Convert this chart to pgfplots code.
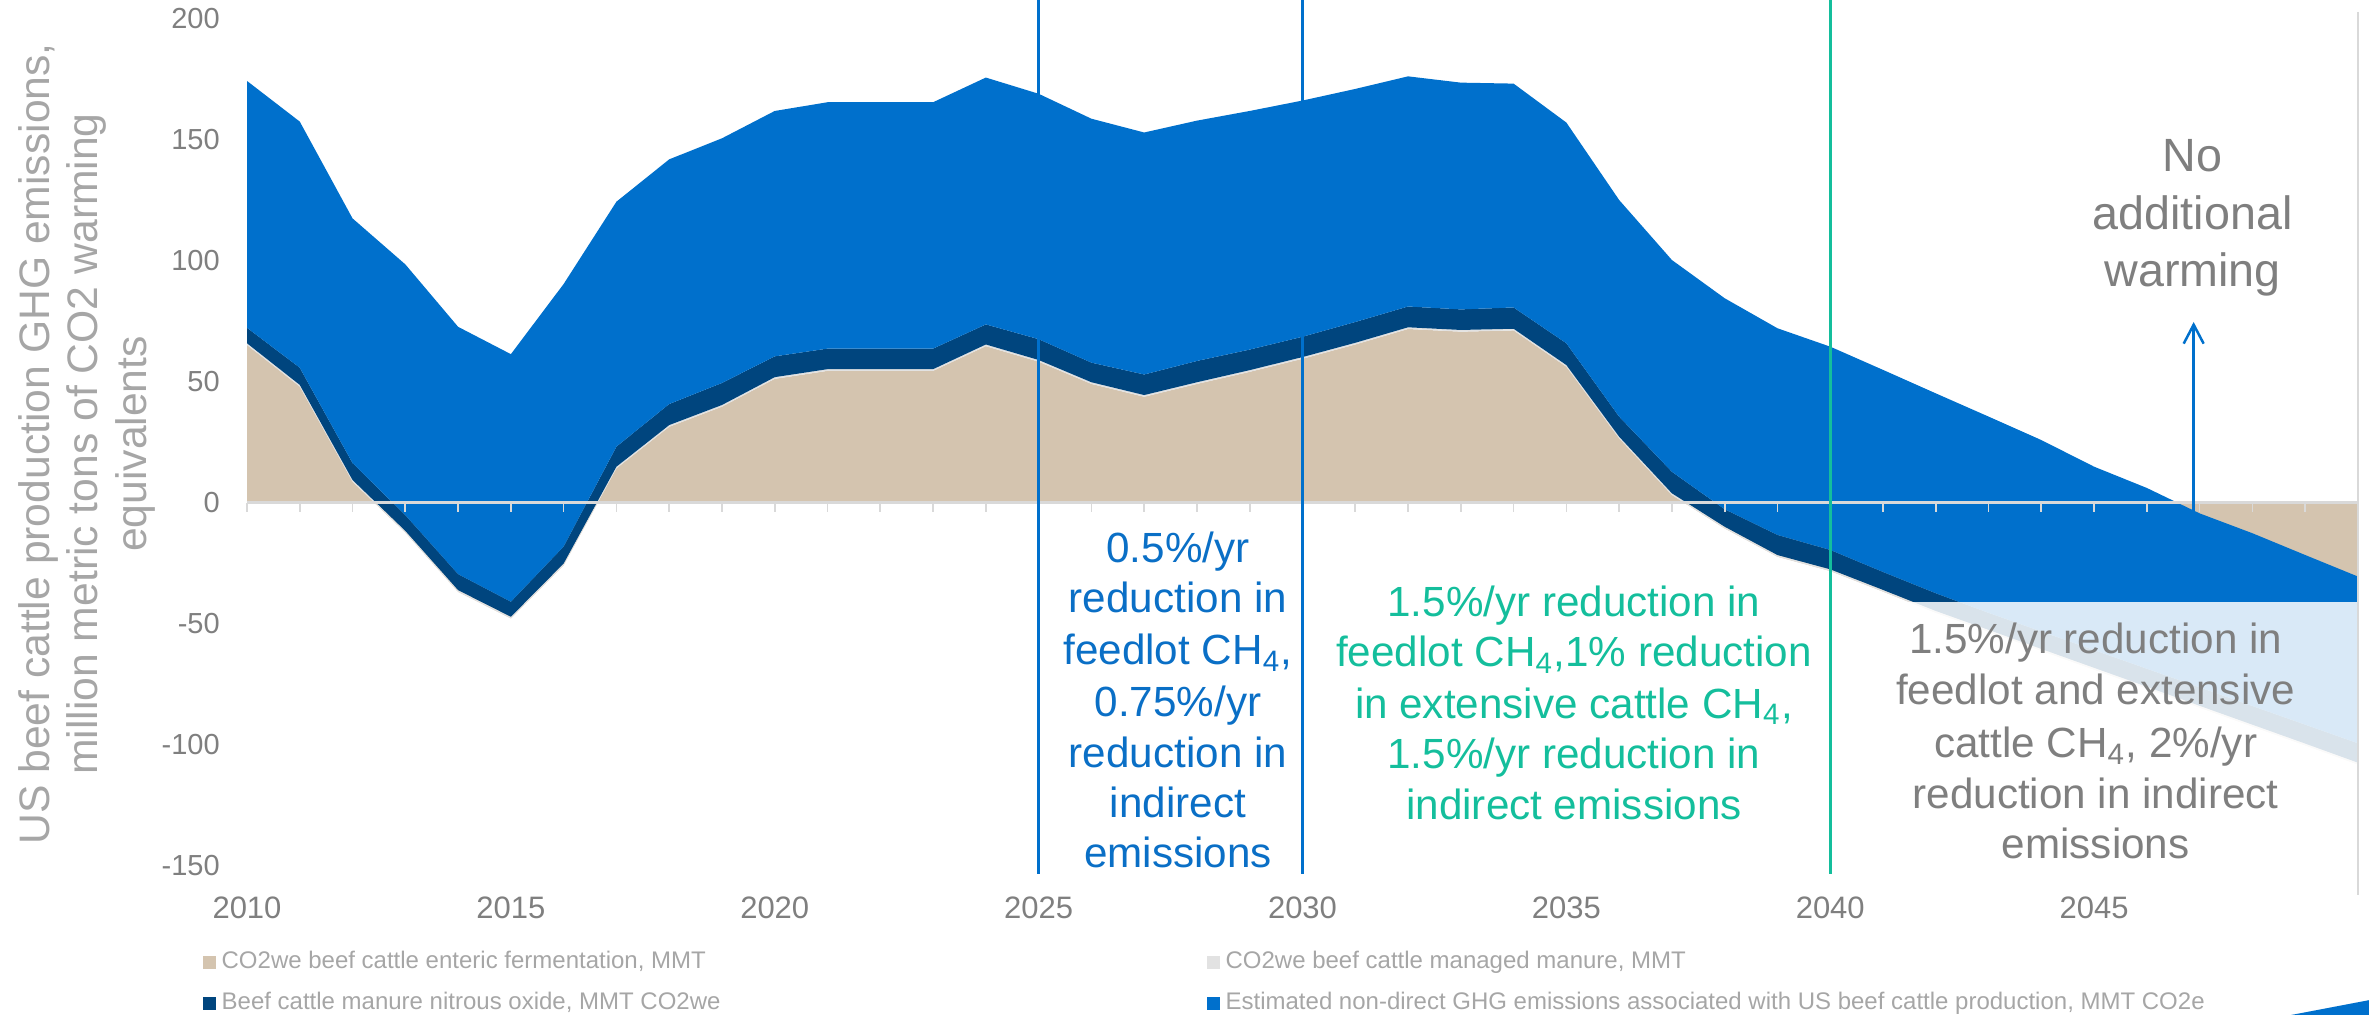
\documentclass[border=0pt]{standalone}
\usepackage{fontspec}
\setmainfont{Liberation Sans}
\usepackage{pgfplots}
\pgfplotsset{compat=1.18}
\usepackage{pgfplotstable}
\usetikzlibrary{arrows.meta}

\definecolor{cTan}{HTML}{D4C4AF}
\definecolor{cManure}{HTML}{E2E2E2}
\definecolor{cNavy}{HTML}{00457E}
\definecolor{cBlue}{HTML}{0070CC}
\definecolor{cBlueText}{HTML}{0A6FC6}
\definecolor{cGreen}{HTML}{14BE9C}
\definecolor{cText}{HTML}{7F7F7F}
\definecolor{cLight}{HTML}{A6A6A6}
\definecolor{cAxis}{HTML}{D9D9D9}

\tikzset{
  ann/.style={anchor=base, inner sep=0pt, font=\fontsize{12.66bp}{15bp}\selectfont},
  big/.style={anchor=base, inner sep=0pt, font=\fontsize{14bp}{17bp}\selectfont, text=cText},
  ylab/.style={anchor=base, inner sep=0pt, rotate=90, font=\fontsize{12.8bp}{15bp}\selectfont, text=cLight},
  leg/.style={anchor=base west, inner sep=0pt, font=\fontsize{7.2bp}{8.5bp}\selectfont, text=cLight},
}

% US beef cattle GHG emissions, MMT CO2 warming equivalents (stacked)
\pgfplotstableread{
year enteric manure nitrous indirect
2010 65.3 0.7 6.4 102.0
2011 48.1 0.7 7.1 101.7
2012 8.8 0.7 7.0 101.1
2013 -12.2 0.7 6.5 103.6
2014 -36.7 0.7 6.6 102.2
2015 -47.7 0.7 6.2 102.3
2016 -25.7 0.7 7.0 108.5
2017 14.3 0.7 8.3 101.2
2018 31.5 0.7 8.7 101.1
2019 39.8 0.7 9.1 101.1
2020 51.3 0.7 8.6 101.4
2021 54.6 0.7 8.5 101.8
2022 54.6 0.7 8.5 101.8
2023 54.6 0.7 8.5 101.8
2024 64.8 0.7 8.3 102.0
2025 58.4 0.7 8.6 101.4
2026 49.2 0.7 8.1 100.8
2027 43.9 0.7 8.5 100.0
2028 49.2 0.7 8.8 99.3
2029 54.2 0.7 8.5 98.6
2030 59.6 0.7 8.4 97.6
2031 65.5 0.7 8.6 96.3
2032 71.9 0.7 8.6 95.1
2033 70.8 0.7 8.5 93.7
2034 71.3 0.7 8.8 92.5
2035 56.3 0.7 9.0 91.2
2036 26.7 0.7 8.3 89.5
2037 3.3 0.7 8.9 87.5
2038 -10.5 0.7 7.2 87.2
2039 -22.2 0.7 8.3 85.4
2040 -28.1 0.7 8.0 84.0
2041 -36.6 0.7 7.4 83.5
2042 -45.3 0.7 7.3 82.6
2043 -53.1 0.7 7.0 81.1
2044 -61.0 0.7 7.2 79.1
2045 -68.8 0.7 7.3 75.8
2046 -76.6 0.7 7.4 74.7
2047 -84.5 0.7 7.6 71.9
2048 -92.3 0.7 7.7 71.4
2049 -100.1 0.7 7.8 70.1
2050 -108.0 0.7 8.0 68.9
}\emissions

\begin{document}
\begin{tikzpicture}
\path[use as bounding box] (0,0) rectangle (710.7bp,304.5bp);
\begin{axis}[
  at={(74.1bp,44.7bp)}, anchor=south west,
  scale only axis, width=633.3bp, height=254.1bp,
  xmin=2010, xmax=2050, ymin=-150, ymax=200,
  clip=false,
  axis line style={draw=none},
  tick style={draw=none},
  xtick={2010,2015,2020,2025,2030,2035,2040,2045},
  xticklabels={2010,2015,2020,2025,2030,2035,2040,2045},
  ytick={-150,-100,-50,0,50,100,150,200},
  yticklabels={-150,-100,-50,0,50,100,150,200},
  xticklabel style={font=\fontsize{9.3bp}{11bp}\selectfont, text=cText,
    anchor=base, inner sep=0pt, yshift=-15.9bp},
  yticklabel style={font=\fontsize{8.7bp}{10bp}\selectfont, text=cText,
    anchor=east, inner sep=0pt, xshift=-8bp},
  stack plots=y,
  reverse stacked plots=false,
]
\addplot[fill=cTan, draw=none] table[x=year, y=enteric] {\emissions} \closedcycle;
\addplot[fill=cManure, draw=none] table[x=year, y=manure] {\emissions} \closedcycle;
\addplot[fill=cNavy, draw=none] table[x=year, y=nitrous] {\emissions} \closedcycle;
\addplot[fill=cBlue, draw=none] table[x=year, y=indirect] {\emissions} \closedcycle;
\end{axis}

% annotations, in pixel units of the 2369 x 1015 canvas (origin top left)
\begin{scope}[x=0.3bp, y=-0.3bp, shift={(0bp,304.5bp)}]
% translucent text box in the lower right
\fill[white, fill opacity=0.85] (1900,602) rectangle (2358,873);

% horizontal axis through zero with yearly ticks
\draw[cAxis, line width=0.9bp] (247,503) -- (2358,503);
\foreach \k in {0,...,40}{
  \draw[cAxis, line width=0.5bp] (247+\k*52.775,503) -- ++(0,9);
}
% right frame edge
\draw[cAxis, line width=0.6bp] (2358,12) -- (2358,895);

% policy period markers
\draw[cBlue, line width=0.9bp] (1038.6,0) -- (1038.6,874);
\draw[cBlue, line width=0.9bp] (1302.5,0) -- (1302.5,874);
\draw[cGreen, line width=0.9bp] (1830.25,0) -- (1830.25,874);

% no additional warming arrow
\draw[cBlue, line width=0.75bp, -{Straight Barb[length=5.7bp, width=6bp]}]
  (2193.7,511.5) -- (2193.7,322);

\node[big] at (2192.7,172) {No};
\node[big] at (2192.7,230) {additional};
\node[big] at (2192.7,287) {warming};

\node[ann, text=cBlueText] at (1178,563) {0.5\%/yr};
\node[ann, text=cBlueText] at (1178,613) {reduction in};
\node[ann, text=cBlueText] at (1178,665) {feedlot CH\textsubscript{4},};
\node[ann, text=cBlueText] at (1178,717) {0.75\%/yr};
\node[ann, text=cBlueText] at (1178,768) {reduction in};
\node[ann, text=cBlueText] at (1178,818) {indirect};
\node[ann, text=cBlueText] at (1178,868) {emissions};

\node[ann, text=cGreen] at (1574,616.7) {1.5\%/yr reduction in};
\node[ann, text=cGreen] at (1574,666.7) {feedlot CH\textsubscript{4},1\% reduction};
\node[ann, text=cGreen] at (1574,718.3) {in extensive cattle CH\textsubscript{4},};
\node[ann, text=cGreen] at (1574,768.3) {1.5\%/yr reduction in};
\node[ann, text=cGreen] at (1574,820) {indirect emissions};

\node[ann, text=cText] at (2095.7,654) {1.5\%/yr reduction in};
\node[ann, text=cText] at (2095.7,704.5) {feedlot and extensive};
\node[ann, text=cText] at (2095.7,757.5) {cattle CH\textsubscript{4}, 2\%/yr};
\node[ann, text=cText] at (2095.7,809) {reduction in indirect};
\node[ann, text=cText] at (2095.7,859) {emissions};

% vertical axis title
\node[ylab] at (49.5,444) {US beef cattle production GHG emissions,};
\node[ylab] at (97,444) {million metric tons of CO2 warming};
\node[ylab] at (147,444) {equivalents};

% legend
\fill[cTan] (203,956.5) rectangle (216,969.5);
\fill[cManure] (1207,956.5) rectangle (1220,969.5);
\fill[cNavy] (203,997.5) rectangle (216,1010.5);
\fill[cBlue] (1207,997.5) rectangle (1220,1010.5);
\node[leg] at (221,968.5) {CO2we beef cattle enteric fermentation, MMT};
\node[leg] at (1225,968.5) {CO2we beef cattle managed manure, MMT};
\node[leg] at (221,1010) {Beef cattle manure nitrous oxide, MMT CO2we};
\node[leg] at (1225,1010) {Estimated non-direct GHG emissions associated with US beef cattle production, MMT CO2e};

% corner accent
\fill[cBlue] (2286,1016) -- (2370,1000) -- (2370,1016) -- cycle;
\end{scope}
\end{tikzpicture}
\end{document}
